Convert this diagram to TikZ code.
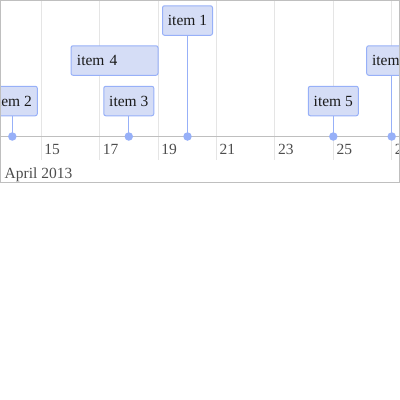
\documentclass[tikz,border=0pt]{standalone}
\usepackage{fontspec}
\setmainfont{Liberation Serif}
\definecolor{bord}{HTML}{BFBFBF}
\definecolor{gridc}{HTML}{E5E5E5}
\definecolor{ifill}{HTML}{D5DDF6}
\definecolor{iline}{HTML}{97B0F8}
\definecolor{axtext}{HTML}{4D4D4D}
\definecolor{itext}{HTML}{1A1A1A}
\begin{document}
\begin{tikzpicture}[x=1pt,y=-1pt,
  itembox/.style={draw=iline, fill=ifill, line width=1pt, rounded corners=2pt,
    minimum height=29.5pt, minimum width=50pt, inner sep=0pt, text=itext,
    font=\fontsize{15.5}{18}\selectfont},
  dotnode/.style={circle, fill=iline, draw=none, minimum size=8.5pt, inner sep=0pt},
  stemline/.style={draw=iline, line width=1pt},
  gridline/.style={draw=gridc, line width=1pt},
  axlabel/.style={anchor=base west, inner sep=0pt, text=axtext, font=\fontsize{15.5}{18}\selectfont}]
\useasboundingbox (0,0) rectangle (400,400);
\begin{scope}
\clip (0,0) rectangle (400,183);
% grid lines
\foreach \d/\x in {13/-17.1,15/41.3,17/99.7,19/158.1,21/216.5,23/274.9,25/333.3,27/391.7}{
  \draw[gridline] (\x,0) -- (\x,160);
  \node[axlabel] (lab\d) at (\x+3,154) {\d};
}
% axis line
\coordinate (axl) at (0,136.5);
\coordinate (axr) at (400,136.5);
\draw[draw=bord, line width=1pt] (axl) -- (axr);
\node[axlabel] (month) at (4.5,178) {April 2013};
% range item
\node[itembox, minimum width=87pt, text width=75pt, align=left, inner xsep=6pt] (i4) at (114.5,60.5) {item 4};
% box items
\node[itembox] (i1) at (187.5,20.5) {item 1};
\node[itembox] (i2) at (12.3,101) {item 2};
\node[itembox] (i3) at (128.8,101) {item 3};
\node[itembox] (i5) at (333.3,101) {item 5};
\node[itembox] (i6) at (391.7,60.5) {item 6};
% dots
\node[dotnode] (d1) at (187.5,136.5) {};
\node[dotnode] (d2) at (12.3,136.5) {};
\node[dotnode] (d3) at (128.8,136.5) {};
\node[dotnode] (d5) at (333.3,136.5) {};
\node[dotnode] (d6) at (391.7,136.5) {};
\foreach \n in {1,2,3,5,6}{
  \draw[stemline] (i\n.south) -- (d\n.center);
}
\end{scope}
\draw[draw=bord, line width=1pt] (0.5,0.5) rectangle (399.5,182.8);
\end{tikzpicture}
\end{document}
